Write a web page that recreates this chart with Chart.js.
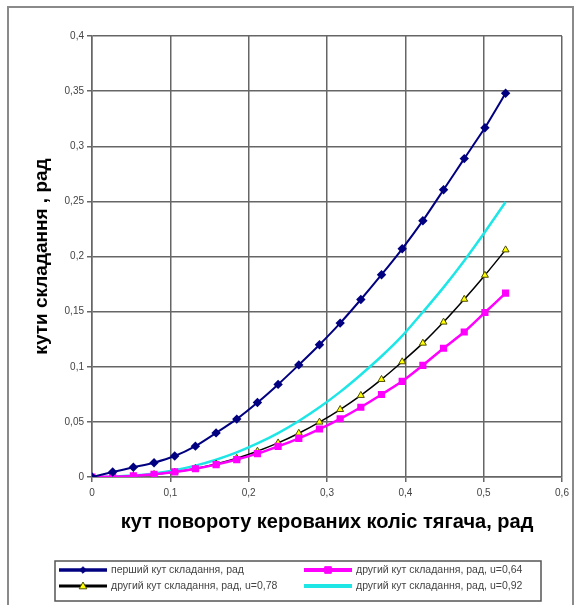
<!DOCTYPE html>
<html>
<head>
<meta charset="utf-8">
<script src="https://cdn.jsdelivr.net/npm/chart.js@4/dist/chart.umd.min.js"></script>
<style>
  html, body { margin: 0; padding: 0; background: #fff; }
  #wrap { position: relative; width: 579px; height: 605px; }
  canvas { display: block; }
</style>
</head>
<body>
<div id="wrap"><canvas id="chart" width="579" height="605"></canvas></div>
<script>
// Steering angle of the tractor's front wheels, rad
const steerAngles = [0, 0.0264, 0.0528, 0.0792, 0.1056, 0.132, 0.1584, 0.1848, 0.2112, 0.2376, 0.264,
  0.2904, 0.3168, 0.3432, 0.3696, 0.396, 0.4224, 0.4488, 0.4752, 0.5016, 0.528];

// First folding angle, rad
const firstAngle = [0, 0.0045, 0.0088, 0.013, 0.019, 0.028, 0.040, 0.0525, 0.0675, 0.084, 0.1017,
  0.120, 0.1396, 0.161, 0.1835, 0.207, 0.2325, 0.2605, 0.2888, 0.3167, 0.348];

// Second folding angle, rad, for u = 0.64 / 0.78 / 0.92
const secondU064 = [0, 0.0003, 0.001, 0.0024, 0.0046, 0.0075, 0.0112, 0.0158, 0.0212, 0.0278, 0.0351,
  0.0435, 0.0528, 0.0633, 0.0748, 0.0868, 0.1013, 0.1168, 0.1315, 0.1492, 0.1668];
const secondU078 = [0, 0.0002, 0.0009, 0.0023, 0.0045, 0.0077, 0.0118, 0.0170, 0.0234, 0.0309, 0.0397,
  0.0498, 0.0612, 0.0740, 0.0885, 0.1045, 0.1214, 0.1405, 0.1612, 0.1830, 0.206];
const secondU092 = [0, 0.0003, 0.0013, 0.0032, 0.0062, 0.0103, 0.0157, 0.0223, 0.0304, 0.0398, 0.0508,
  0.0632, 0.0772, 0.0928, 0.1095, 0.1280, 0.1496, 0.1720, 0.1962, 0.2222, 0.2495];

const xTicks = [0, 0.1, 0.2, 0.3, 0.4, 0.5, 0.6];
const yTicks = [0, 0.05, 0.1, 0.15, 0.2, 0.25, 0.3, 0.35, 0.4];

const seriesLabels = [
  'перший кут складання, рад',
  'другий кут складання, рад, u=0,64',
  'другий кут складання, рад, u=0,78',
  'другий кут складання, рад, u=0,92'
];

const xTitle = 'кут повороту керованих коліс тягача, рад';
const yTitle = 'кути складання , рад';

const toPoints = ys => steerAngles.map((x, i) => ({ x: x, y: ys[i] }));
const fmt = v => String(+v.toFixed(2)).replace('.', ',');

const FONT = '"Liberation Sans", Arial, sans-serif';
const GRID = '#666';

// Outer frame and the boxed two-column legend
const frameAndLegend = {
  id: 'frameAndLegend',
  beforeDraw(chart) {
    const ctx = chart.ctx;
    ctx.save();
    ctx.fillStyle = '#fff';
    ctx.fillRect(0, 0, chart.width, chart.height);
    ctx.restore();
  },
  afterDraw(chart) {
    const ctx = chart.ctx;
    ctx.save();
    ctx.strokeStyle = '#8a8a8a';
    ctx.lineWidth = 2;
    ctx.strokeRect(8, 7, 565, 640);

    ctx.strokeStyle = '#555';
    ctx.lineWidth = 1.5;
    ctx.strokeRect(55, 561, 486, 40);

    ctx.font = '10.5px ' + FONT;
    ctx.textBaseline = 'middle';
    ctx.textAlign = 'left';
    chart.data.datasets.forEach((ds, i) => {
      const col = i % 2, row = Math.floor(i / 2);
      const x0 = col ? 304 : 59;
      const y = row ? 586 : 570;
      ctx.strokeStyle = ds.borderColor;
      ctx.lineWidth = ds.borderWidth + 1.5;
      ctx.beginPath();
      ctx.moveTo(x0, y);
      ctx.lineTo(x0 + 48, y);
      ctx.stroke();
      const cx = x0 + 24;
      if (ds.pointRadius > 0) {
        const r = ds.pointRadius;
        ctx.fillStyle = ds.pointBackgroundColor;
        ctx.strokeStyle = ds.pointBorderColor;
        ctx.lineWidth = 1;
        ctx.beginPath();
        if (ds.pointStyle === 'rectRot') {
          ctx.moveTo(cx, y - r); ctx.lineTo(cx + r, y); ctx.lineTo(cx, y + r); ctx.lineTo(cx - r, y);
        } else if (ds.pointStyle === 'rect') {
          ctx.rect(cx - r, y - r, 2 * r, 2 * r);
        } else if (ds.pointStyle === 'triangle') {
          ctx.moveTo(cx, y - r); ctx.lineTo(cx + r * 0.95, y + r * 0.7); ctx.lineTo(cx - r * 0.95, y + r * 0.7);
        }
        ctx.closePath();
        ctx.fill();
        ctx.stroke();
      }
      ctx.fillStyle = '#444';
      ctx.fillText(ds.label, x0 + 52, y);
    });
    ctx.restore();
  }
};

new Chart(document.getElementById('chart'), {
  type: 'scatter',
  data: {
    datasets: [
      {
        label: seriesLabels[0], data: toPoints(firstAngle), showLine: true,
        borderColor: '#000080', borderWidth: 2, tension: 0.2,
        pointStyle: 'rectRot', pointRadius: 3.3,
        pointBackgroundColor: '#000080', pointBorderColor: '#000080'
      },
      {
        label: seriesLabels[1], data: toPoints(secondU064), showLine: true,
        borderColor: '#ff00ff', borderWidth: 2.5, tension: 0.2,
        pointStyle: 'rect', pointRadius: 3.3,
        pointBackgroundColor: '#ff00ff', pointBorderColor: '#ff00ff'
      },
      {
        label: seriesLabels[2], data: toPoints(secondU078), showLine: true,
        borderColor: '#000000', borderWidth: 1.5, tension: 0.2,
        pointStyle: 'triangle', pointRadius: 4,
        pointBackgroundColor: '#ffff00', pointBorderColor: '#4d4d00', pointBorderWidth: 1
      },
      {
        label: seriesLabels[3], data: toPoints(secondU092), showLine: true,
        borderColor: '#1ee6e6', borderWidth: 2.5, tension: 0.2,
        pointRadius: 0, pointBackgroundColor: '#1ee6e6', pointBorderColor: '#1ee6e6'
      }
    ]
  },
  options: {
    responsive: false,
    animation: false,
    events: [],
    layout: { padding: { left: 0, right: 17, top: 36, bottom: 65 } },
    plugins: {
      legend: { display: false },
      tooltip: { enabled: false }
    },
    scales: {
      x: {
        type: 'linear', min: 0, max: 0.6,
        afterBuildTicks: s => { s.ticks = xTicks.map(v => ({ value: v })); },
        afterFit: s => { s.height = 63; },
        ticks: { callback: v => fmt(v), font: { family: FONT, size: 10 }, color: '#444', padding: 5, maxRotation: 0 },
        grid: { color: GRID, lineWidth: 1.5, tickLength: 5, tickColor: GRID },
        border: { color: GRID, width: 1.5 },
        title: {
          display: true, text: xTitle, color: '#000',
          font: { family: FONT, size: 20, weight: 'bold' },
          padding: { top: 0, bottom: 6 }
        }
      },
      y: {
        type: 'linear', min: 0, max: 0.4,
        afterBuildTicks: s => { s.ticks = yTicks.map(v => ({ value: v })); },
        afterFit: s => { s.width = 92; },
        ticks: { callback: v => fmt(v), font: { family: FONT, size: 10 }, color: '#444', padding: 3 },
        grid: { color: GRID, lineWidth: 1.5, tickLength: 5, tickColor: GRID },
        border: { color: GRID, width: 1.5 },
        title: {
          display: true, text: yTitle, color: '#000',
          font: { family: FONT, size: 19, weight: 'bold' },
          padding: { top: 30, bottom: 0 }
        }
      }
    }
  },
  plugins: [frameAndLegend]
});
</script>
</body>
</html>
